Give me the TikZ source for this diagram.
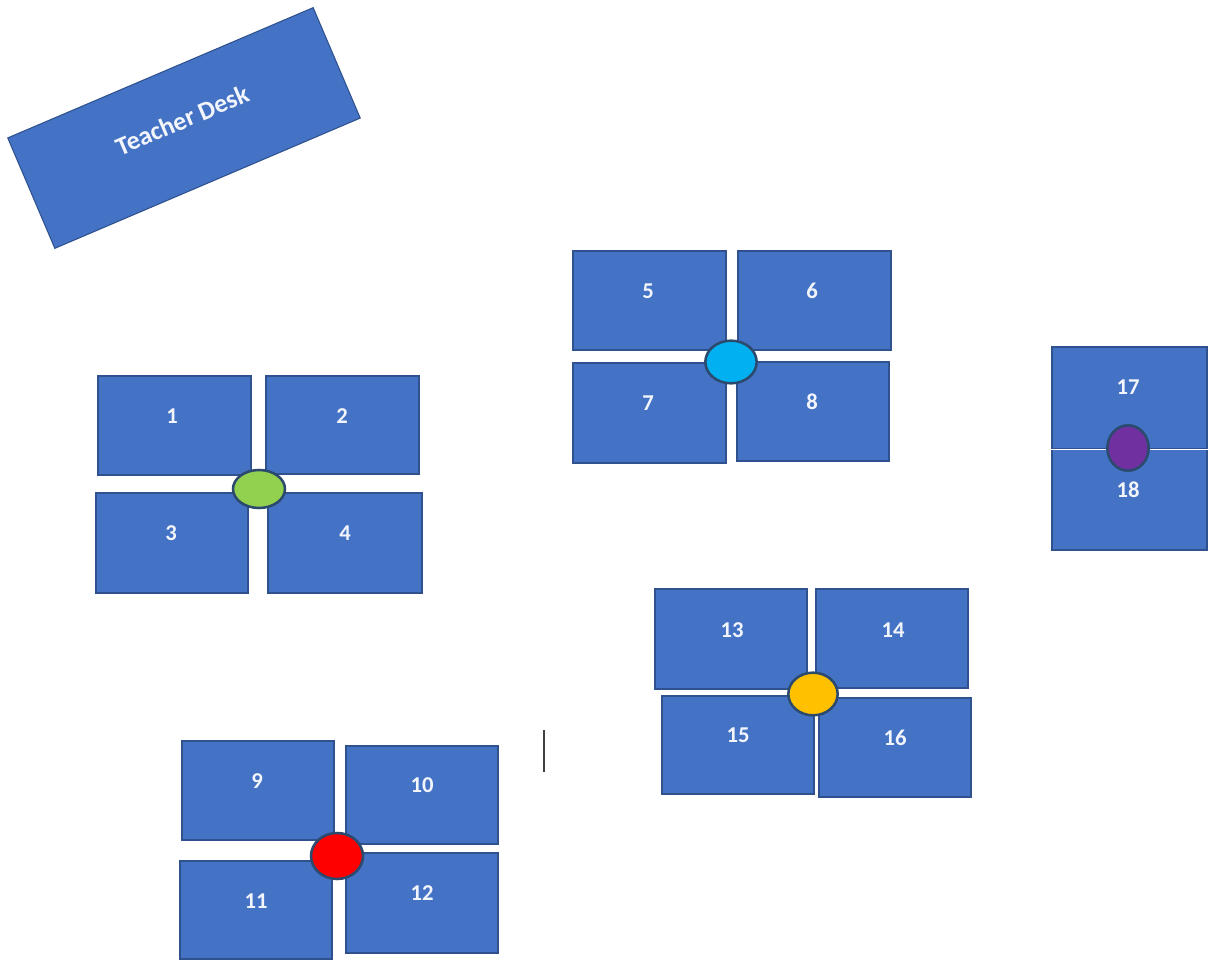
\documentclass[tikz,border=0pt]{standalone}
\usepackage{fontspec}
\setmainfont{Carlito}
\usetikzlibrary{fit,shapes.geometric}
\definecolor{deskblue}{HTML}{4472C4}
\definecolor{deskline}{HTML}{2F528F}
\definecolor{seatline}{HTML}{2B4A6E}
\definecolor{seatgreen}{HTML}{92D050}
\definecolor{seatcyan}{HTML}{00B0F0}
\definecolor{seatpurple}{HTML}{7030A0}
\definecolor{seatorange}{HTML}{FFC000}
\definecolor{seatred}{HTML}{FF0000}
\definecolor{deskwhite}{HTML}{F2F5FB}
\begin{document}
\begin{tikzpicture}[x=0.75pt,y=-0.75pt,
  desk/.style={draw=deskline, fill=deskblue, line width=0.8pt, inner sep=0pt},
  num/.style={text=deskwhite, font=\fontsize{17}{20}\selectfont\bfseries, inner sep=0pt},
  seat/.style={ellipse, draw=seatline, line width=1.9pt, inner sep=0pt}]
\fill[white] (0,0) rectangle (1208,962);
\useasboundingbox (0,0) rectangle (1208,962);

% Teacher desk
\node[desk, rotate=23.1, minimum width=249pt, minimum height=90pt] (tdesk) at (184,128) {};
\node[num, rotate=23.1, font=\fontsize{19.5}{22}\selectfont\bfseries] (tdtext) at (182,120) {Teacher Desk};

% Group 1
\node[desk, fit={(98,376) (251,475)}] (d1) {};
\node[desk, fit={(266,376) (419,474)}] (d2) {};
\node[desk, fit={(96,493) (248,593)}] (d3) {};
\node[desk, fit={(268,493) (422,593)}] (d4) {};
\node[num] (t1) at (172,416) {1};
\node[num] (t2) at (342,416) {2};
\node[num] (t3) at (171,533) {3};
\node[num] (t4) at (345,533) {4};
\node[seat, fill=seatgreen, minimum width=39pt, minimum height=28.5pt] (s1) at (259,489) {};

% Group 2
\node[desk, fit={(573,251) (726,350)}] (d5) {};
\node[desk, fit={(738,251) (891,350)}] (d6) {};
\node[desk, fit={(573,363) (726,463)}] (d7) {};
\node[desk, fit={(737,362) (889,461)}] (d8) {};
\node[num] (t5) at (648,291) {5};
\node[num] (t6) at (812,291) {6};
\node[num] (t7) at (648,403) {7};
\node[num] (t8) at (812,402) {8};
\node[seat, fill=seatcyan, minimum width=38.5pt, minimum height=32pt] (s2) at (731,362) {};

% Group 5 (17, 18)
\node[desk, fit={(1052,347) (1207,449)}] (d17) {};
\node[desk, fit={(1052,449) (1207,550)}] (d18) {};
\draw[white, line width=1.2pt] (d17.south west) -- (d17.south east);
\node[num] (t17) at (1128,387) {17};
\node[num] (t18) at (1128,490) {18};
\node[seat, fill=seatpurple, minimum width=31pt, minimum height=34pt] (s5) at (1128,448) {};

% Group 4 (13-16)
\node[desk, fit={(655,589) (807,689)}] (d13) {};
\node[desk, fit={(816,589) (968,688)}] (d14) {};
\node[desk, fit={(662,696) (814,794)}] (d15) {};
\node[desk, fit={(819,698) (971,797)}] (d16) {};
\node[num] (t13) at (732,630) {13};
\node[num] (t14) at (893,630) {14};
\node[num] (t15) at (738,735) {15};
\node[num] (t16) at (895,738) {16};
\node[seat, fill=seatorange, minimum width=37pt, minimum height=32pt] (s4) at (813,694) {};

% Group 3 (9-12)
\node[desk, fit={(182,741) (334,840)}] (d9) {};
\node[desk, fit={(346,746) (498,844)}] (d10) {};
\node[desk, fit={(180,861) (332,959)}] (d11) {};
\node[desk, fit={(346,853) (498,953)}] (d12) {};
\node[num] (t9) at (257,781) {9};
\node[num] (t10) at (422,785) {10};
\node[num] (t11) at (256,901) {11};
\node[num] (t12) at (422,893) {12};
\node[seat, fill=seatred, minimum width=39pt, minimum height=34.5pt] (s3) at (337,856) {};

% text cursor
\coordinate (cur1) at (544,730);
\coordinate (cur2) at (544,772);
\draw[line width=1.4pt, black!75] (cur1) -- (cur2);
\end{tikzpicture}
\end{document}
